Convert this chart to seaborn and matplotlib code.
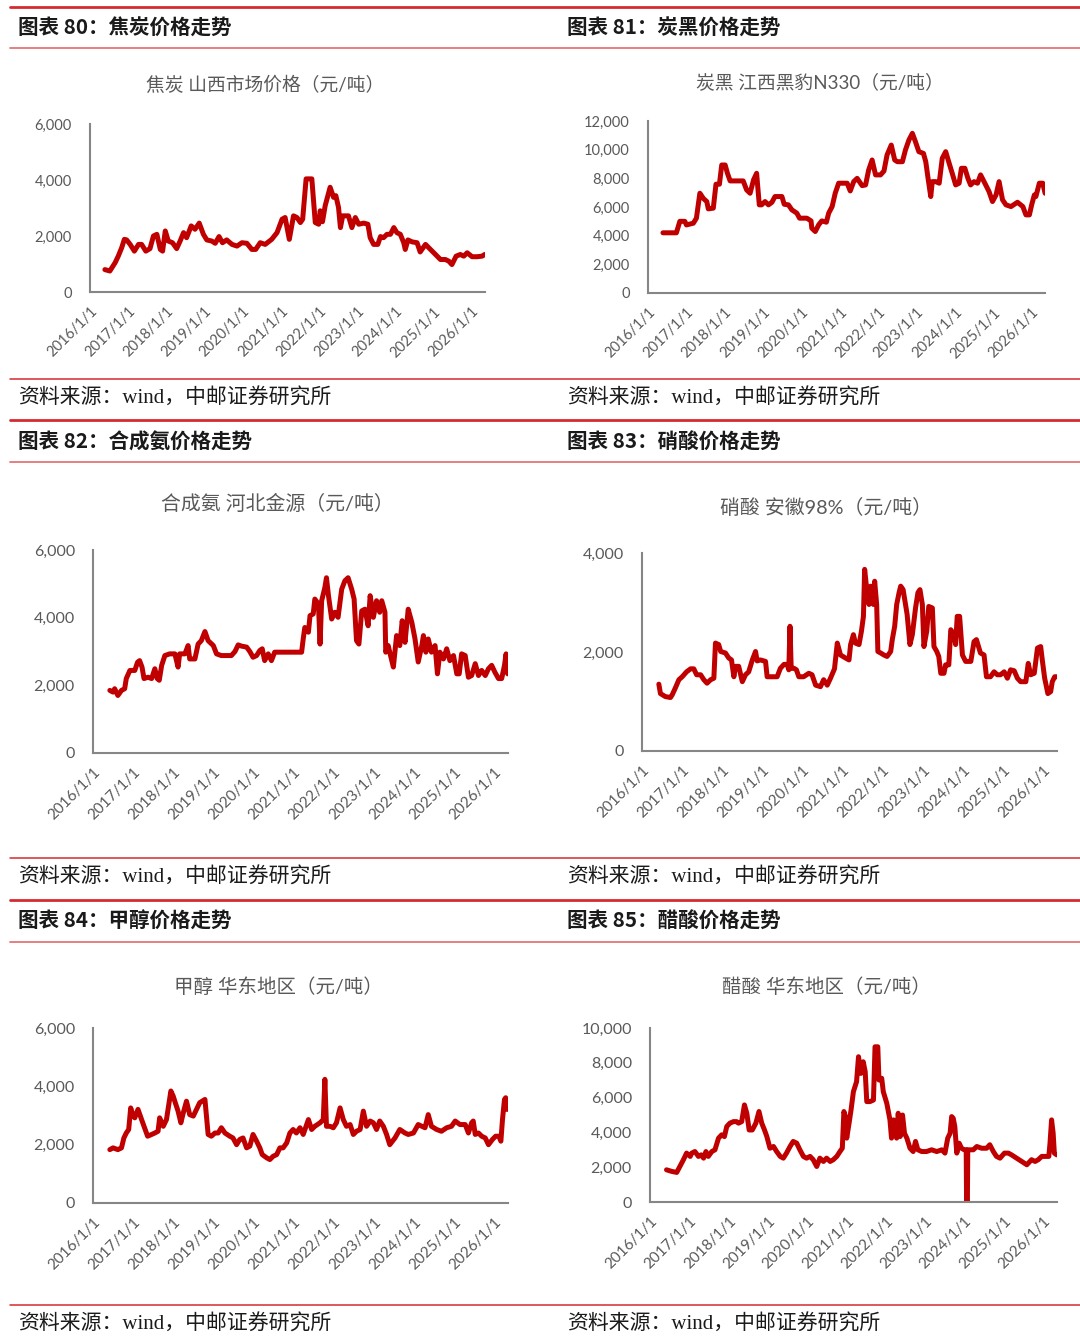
import numpy as np
import pandas as pd
import matplotlib
matplotlib.use("Agg")
import matplotlib.pyplot as plt
from matplotlib.lines import Line2D
from matplotlib.ticker import FuncFormatter
import seaborn as sns

# ---- data (decimal years / yuan per ton) ----
coke_years = [2016.39, 2016.52, 2016.66, 2016.74, 2016.83, 2016.90, 2016.96, 2017.05, 2017.16, 2017.27,
              2017.35, 2017.46, 2017.57, 2017.66, 2017.75, 2017.84, 2017.90, 2017.97, 2018.05, 2018.16,
              2018.27, 2018.36, 2018.45, 2018.53, 2018.65, 2018.75, 2018.86, 2018.97, 2019.06, 2019.19,
              2019.28, 2019.38, 2019.47, 2019.58, 2019.72, 2019.85, 2019.98, 2020.11, 2020.24, 2020.34,
              2020.46, 2020.59, 2020.76, 2020.90, 2021.03, 2021.11, 2021.22, 2021.33, 2021.42, 2021.51,
              2021.57, 2021.66, 2021.81, 2021.90, 2021.99, 2022.03, 2022.09, 2022.16, 2022.29, 2022.38,
              2022.44, 2022.51, 2022.56, 2022.62, 2022.77, 2022.86, 2022.95, 2023.04, 2023.17, 2023.28,
              2023.34, 2023.43, 2023.54, 2023.61, 2023.69, 2023.78, 2023.87, 2023.96, 2024.04, 2024.13,
              2024.22, 2024.26, 2024.33, 2024.44, 2024.57, 2024.65, 2024.79, 2024.92, 2025.05, 2025.18,
              2025.31, 2025.40, 2025.48, 2025.59, 2025.70, 2025.79, 2025.88, 2026.01, 2026.14, 2026.27,
              2026.34]
coke_price = [800, 750, 1050, 1280, 1580, 1880, 1860, 1700, 1460, 1700,
              1700, 1460, 1550, 2000, 2060, 1520, 1460, 2180, 1820, 1760,
              1550, 1820, 2120, 1940, 2360, 2240, 2460, 2060, 1860, 1820,
              1740, 1980, 1760, 1860, 1700, 1640, 1760, 1740, 1520, 1520,
              1760, 1700, 1880, 2120, 2600, 2660, 1880, 2720, 2660, 2480,
              2600, 4040, 4040, 2480, 2420, 2900, 2510, 3080, 3740, 3380,
              3440, 3020, 2300, 2720, 2720, 2300, 2660, 2420, 2460, 2420,
              1940, 1700, 1700, 1980, 1940, 2060, 2060, 2300, 2120, 2060,
              1760, 1520, 1860, 1790, 1760, 1430, 1700, 1520, 1340, 1160,
              1160, 1100, 980, 1280, 1340, 1280, 1400, 1260, 1260, 1280,
              1340]

cb_years = [2016.39, 2016.74, 2016.83, 2016.96, 2017.00, 2017.18, 2017.26, 2017.35, 2017.44, 2017.53,
            2017.57, 2017.70, 2017.77, 2017.86, 2017.92, 2018.01, 2018.07, 2018.14, 2018.48, 2018.57,
            2018.66, 2018.75, 2018.83, 2018.90, 2018.96, 2019.05, 2019.14, 2019.23, 2019.31, 2019.49,
            2019.55, 2019.66, 2019.75, 2019.88, 2019.95, 2020.14, 2020.25, 2020.27, 2020.36, 2020.45,
            2020.53, 2020.65, 2020.71, 2020.80, 2020.88, 2020.97, 2021.19, 2021.27, 2021.36, 2021.45,
            2021.58, 2021.67, 2021.75, 2021.84, 2021.93, 2022.06, 2022.15, 2022.23, 2022.34, 2022.43,
            2022.50, 2022.63, 2022.71, 2022.80, 2022.89, 2022.97, 2023.06, 2023.18, 2023.24, 2023.30,
            2023.37, 2023.41, 2023.50, 2023.59, 2023.67, 2023.76, 2023.85, 2023.93, 2024.02, 2024.11,
            2024.17, 2024.26, 2024.34, 2024.41, 2024.50, 2024.59, 2024.67, 2024.76, 2024.89, 2024.98,
            2025.07, 2025.15, 2025.24, 2025.33, 2025.46, 2025.55, 2025.63, 2025.77, 2025.85, 2025.94,
            2026.00, 2026.07, 2026.11, 2026.20, 2026.29, 2026.35]
cb_price = [4200, 4200, 5000, 5000, 4750, 4870, 5220, 6960, 6600, 6380,
            5870, 5920, 7590, 7590, 8930, 8930, 8350, 7820, 7820, 7190,
            6960, 7890, 8350, 6150, 6150, 6380, 6150, 6330, 6730, 6730,
            6190, 6150, 5800, 5570, 5220, 5220, 5030, 4520, 4290, 4760,
            5030, 4940, 5570, 6030, 6960, 7660, 7660, 7120, 7770, 8000,
            7490, 7540, 8580, 9280, 8240, 8240, 8510, 9630, 10320, 9280,
            9160, 9160, 9980, 10670, 11140, 10560, 9860, 9740, 9160, 8000,
            6730, 7770, 7770, 7660, 9400, 9860, 9050, 8350, 7540, 7660,
            8700, 8700, 8000, 7540, 7770, 7660, 8240, 7770, 7080, 6380,
            6840, 7770, 6500, 6150, 6030, 6190, 6330, 6030, 5450, 5450,
            6150, 6840, 6730, 7660, 7660, 6960]

nh3_years = [2016.42, 2016.50, 2016.54, 2016.62, 2016.71, 2016.79, 2016.83, 2016.92, 2017.04, 2017.11,
             2017.16, 2017.22, 2017.27, 2017.37, 2017.46, 2017.54, 2017.60, 2017.65, 2017.71, 2017.79,
             2017.91, 2018.04, 2018.12, 2018.16, 2018.29, 2018.37, 2018.41, 2018.54, 2018.62, 2018.70,
             2018.79, 2018.87, 2019.00, 2019.08, 2019.20, 2019.45, 2019.54, 2019.62, 2019.70, 2019.83,
             2019.91, 2019.99, 2020.08, 2020.16, 2020.22, 2020.28, 2020.37, 2020.45, 2020.53, 2021.20,
             2021.24, 2021.28, 2021.37, 2021.41, 2021.49, 2021.53, 2021.62, 2021.66, 2021.70, 2021.78,
             2021.82, 2021.87, 2021.95, 2022.03, 2022.11, 2022.20, 2022.28, 2022.36, 2022.45, 2022.51,
             2022.57, 2022.63, 2022.70, 2022.78, 2022.86, 2022.91, 2022.99, 2023.07, 2023.15, 2023.20,
             2023.28, 2023.30, 2023.36, 2023.45, 2023.49, 2023.57, 2023.65, 2023.71, 2023.78, 2023.86,
             2023.95, 2024.03, 2024.11, 2024.20, 2024.24, 2024.30, 2024.36, 2024.44, 2024.53, 2024.59,
             2024.65, 2024.74, 2024.82, 2024.90, 2024.99, 2025.07, 2025.13, 2025.19, 2025.28, 2025.36,
             2025.44, 2025.53, 2025.61, 2025.69, 2025.78, 2025.86, 2025.94, 2026.02, 2026.11, 2026.19,
             2026.26, 2026.30, 2026.34]
nh3_price = [1850, 1800, 1900, 1700, 1850, 1900, 2200, 2440, 2440, 2685,
             2730, 2540, 2200, 2240, 2200, 2490, 2200, 2150, 2590, 2880,
             2930, 2930, 2540, 2930, 2930, 3175, 2780, 2780, 3220, 3320,
             3590, 3320, 3175, 2930, 2880, 2880, 3000, 3195, 3160, 3130,
             3000, 2830, 2880, 3030, 3080, 2730, 2930, 2730, 2980, 2980,
             3370, 3710, 3570, 4060, 4110, 4550, 4400, 3220, 4500, 4890,
             5180, 4650, 3960, 4160, 4010, 4840, 5090, 5180, 4840, 4550,
             3320, 3220, 4200, 4250, 3760, 4650, 4010, 4500, 4160, 4500,
             4160, 2980, 3175, 2730, 2540, 3470, 3175, 3910, 3270, 4250,
             3860, 3370, 2690, 3175, 3470, 2980, 3370, 2980, 3175, 2340,
             2980, 2780, 3080, 2730, 2880, 2340, 2340, 2930, 2880, 2240,
             2290, 2640, 2290, 2440, 2290, 2490, 2590, 2390, 2200, 2200,
             2590, 2930, 2340]

hno3_years = [2016.42, 2016.46, 2016.58, 2016.71, 2016.75, 2016.83, 2016.92, 2017.00, 2017.11, 2017.21,
              2017.29, 2017.36, 2017.46, 2017.54, 2017.62, 2017.71, 2017.79, 2017.83, 2017.91, 2017.96,
              2018.08, 2018.16, 2018.23, 2018.29, 2018.33, 2018.41, 2018.50, 2018.58, 2018.66, 2018.75,
              2018.83, 2018.87, 2018.95, 2019.08, 2019.12, 2019.37, 2019.45, 2019.54, 2019.62, 2019.66,
              2019.69, 2019.72, 2019.79, 2019.85, 2019.91, 2020.03, 2020.16, 2020.24, 2020.33, 2020.45,
              2020.53, 2020.62, 2020.70, 2020.80, 2020.87, 2020.95, 2021.07, 2021.16, 2021.20, 2021.27,
              2021.32, 2021.41, 2021.47, 2021.52, 2021.55, 2021.62, 2021.66, 2021.70, 2021.77, 2021.80,
              2021.85, 2021.88, 2021.95, 2022.03, 2022.11, 2022.20, 2022.24, 2022.30, 2022.35, 2022.41,
              2022.45, 2022.51, 2022.57, 2022.61, 2022.68, 2022.74, 2022.82, 2022.88, 2022.93, 2022.99,
              2023.03, 2023.10, 2023.15, 2023.24, 2023.28, 2023.35, 2023.40, 2023.45, 2023.53, 2023.57,
              2023.65, 2023.70, 2023.78, 2023.82, 2023.86, 2023.92, 2023.99, 2024.07, 2024.20, 2024.28,
              2024.34, 2024.44, 2024.53, 2024.59, 2024.69, 2024.78, 2024.86, 2024.94, 2025.03, 2025.11,
              2025.19, 2025.28, 2025.36, 2025.44, 2025.57, 2025.63, 2025.69, 2025.78, 2025.86, 2025.94,
              2025.98, 2026.04, 2026.12, 2026.19, 2026.23, 2026.29, 2026.34]
hno3_price = [1350, 1160, 1100, 1080, 1130, 1270, 1440, 1500, 1600, 1660,
              1660, 1540, 1540, 1440, 1370, 1440, 1470, 2180, 2150, 2010,
              1980, 1880, 1840, 1500, 1710, 1710, 1400, 1540, 1600, 1840,
              2010, 1820, 1840, 1810, 1500, 1500, 1670, 1750, 1750, 1640,
              2520, 1670, 1670, 1640, 1500, 1500, 1570, 1540, 1330, 1300,
              1440, 1330, 1470, 1660, 2180, 1940, 1880, 1840, 2150, 2350,
              2180, 2150, 2420, 2720, 3670, 3130, 2960, 3330, 2960, 3430,
              2960, 2010, 1980, 1940, 1910, 2010, 2250, 2520, 2960, 3200,
              3330, 3260, 2960, 2760, 2150, 2350, 2890, 3200, 3260, 2960,
              2110, 2420, 2920, 2890, 2110, 2010, 1910, 1570, 1570, 1740,
              1740, 2450, 2350, 2150, 2720, 2720, 1940, 1810, 1810, 2210,
              2250, 1980, 1940, 1500, 1500, 1600, 1540, 1540, 1600, 1470,
              1640, 1620, 1470, 1400, 1400, 1770, 1540, 1570, 2080, 2110,
              1840, 1470, 1160, 1200, 1400, 1500, 1500]

meoh_years = [2016.42, 2016.50, 2016.62, 2016.71, 2016.77, 2016.83, 2016.89, 2016.94, 2017.00, 2017.04,
              2017.12, 2017.21, 2017.27, 2017.36, 2017.46, 2017.54, 2017.62, 2017.66, 2017.75, 2017.83,
              2017.94, 2018.00, 2018.05, 2018.12, 2018.19, 2018.25, 2018.33, 2018.41, 2018.50, 2018.58,
              2018.66, 2018.79, 2018.87, 2018.95, 2019.04, 2019.12, 2019.20, 2019.29, 2019.41, 2019.49,
              2019.58, 2019.66, 2019.74, 2019.83, 2019.91, 2019.99, 2020.08, 2020.16, 2020.22, 2020.33,
              2020.41, 2020.49, 2020.58, 2020.66, 2020.74, 2020.83, 2020.91, 2020.99, 2021.07, 2021.16,
              2021.24, 2021.37, 2021.45, 2021.53, 2021.66, 2021.74, 2021.78, 2021.82, 2021.91, 2021.99,
              2022.07, 2022.16, 2022.24, 2022.32, 2022.41, 2022.49, 2022.57, 2022.66, 2022.74, 2022.82,
              2022.91, 2022.99, 2023.07, 2023.15, 2023.24, 2023.32, 2023.40, 2023.53, 2023.65, 2023.78,
              2023.86, 2023.99, 2024.11, 2024.20, 2024.28, 2024.36, 2024.44, 2024.57, 2024.69, 2024.82,
              2024.94, 2025.03, 2025.15, 2025.28, 2025.36, 2025.44, 2025.48, 2025.53, 2025.61, 2025.69,
              2025.78, 2025.86, 2025.96, 2026.04, 2026.12, 2026.17, 2026.21, 2026.26, 2026.29, 2026.32,
              2026.36]
meoh_price = [1830, 1890, 1830, 1890, 2230, 2400, 2520, 3260, 2980, 2920,
              3210, 2860, 2630, 2290, 2350, 2400, 2460, 2920, 2630, 2860,
              3840, 3660, 3440, 3150, 2750, 3090, 3490, 3030, 2980, 3210,
              3440, 3550, 2350, 2290, 2400, 2400, 2580, 2400, 2290, 2230,
              2000, 2180, 2230, 1890, 1950, 2350, 2120, 1890, 1660, 1550,
              1490, 1600, 1660, 1890, 1890, 2060, 2400, 2520, 2400, 2580,
              2350, 2860, 2520, 2630, 2750, 2860, 4240, 2630, 2630, 2580,
              2750, 3260, 2860, 2630, 2690, 2350, 2460, 2520, 3150, 2630,
              2810, 2750, 2520, 2810, 2630, 2350, 2000, 2230, 2520, 2400,
              2350, 2400, 2690, 2630, 2580, 3030, 2630, 2520, 2460, 2580,
              2630, 2810, 2690, 2690, 2400, 2750, 2810, 2350, 2400, 2290,
              2230, 2000, 2180, 2290, 2290, 2120, 2860, 3550, 3610, 3210,
              3210]

acetic_years = [2016.42, 2016.55, 2016.68, 2016.76, 2016.85, 2016.93, 2017.02, 2017.06, 2017.14, 2017.23,
                2017.30, 2017.36, 2017.42, 2017.48, 2017.57, 2017.65, 2017.74, 2017.82, 2017.89, 2017.95,
                2018.03, 2018.12, 2018.20, 2018.25, 2018.33, 2018.40, 2018.46, 2018.52, 2018.60, 2018.69,
                2018.77, 2018.84, 2018.91, 2018.97, 2019.05, 2019.14, 2019.22, 2019.31, 2019.39, 2019.47,
                2019.56, 2019.64, 2019.73, 2019.81, 2019.90, 2019.98, 2020.07, 2020.15, 2020.24, 2020.32,
                2020.41, 2020.49, 2020.58, 2020.66, 2020.75, 2020.83, 2020.89, 2020.93, 2020.97, 2021.00,
                2021.06, 2021.11, 2021.17, 2021.25, 2021.30, 2021.36, 2021.42, 2021.47, 2021.51, 2021.59,
                2021.68, 2021.72, 2021.79, 2021.82, 2021.89, 2021.93, 2022.02, 2022.10, 2022.14, 2022.19,
                2022.23, 2022.27, 2022.31, 2022.36, 2022.42, 2022.47, 2022.53, 2022.61, 2022.69, 2022.75,
                2022.81, 2022.91, 2023.03, 2023.16, 2023.29, 2023.42, 2023.50, 2023.57, 2023.63, 2023.67,
                2023.71, 2023.75, 2023.80, 2023.86, 2023.92, 2023.99, 2024.04, 2024.05, 2024.07, 2024.08,
                2024.22, 2024.31, 2024.43, 2024.56, 2024.64, 2024.73, 2024.81, 2024.90, 2025.01, 2025.11,
                2025.19, 2025.32, 2025.45, 2025.58, 2025.70, 2025.79, 2025.87, 2025.96, 2026.08, 2026.14,
                2026.17, 2026.21, 2026.25, 2026.28, 2026.34]
acetic_price = [1850, 1760, 1700, 2040, 2430, 2810, 2620, 2810, 2900, 2620,
                2710, 2520, 2900, 2620, 2900, 3000, 3670, 3860, 3760, 4340,
                4530, 4620, 4620, 4530, 4620, 5580, 5100, 4140, 4140, 4530,
                5200, 4530, 4140, 3760, 3090, 3190, 2900, 2620, 2520, 2810,
                3190, 3480, 3380, 3000, 2620, 2520, 2620, 2430, 2040, 2520,
                2330, 2520, 2330, 2430, 2620, 2900, 3090, 5200, 4910, 3670,
                4530, 5290, 6340, 6910, 8350, 7390, 8060, 7490, 5770, 5770,
                5860, 8920, 8920, 7010, 7110, 6340, 5670, 4720, 3670, 4720,
                4140, 3670, 5100, 3760, 5000, 3950, 3670, 3090, 2900, 3480,
                3000, 2900, 2900, 3000, 2900, 3000, 2810, 3670, 3950, 4910,
                4810, 4340, 2810, 3380, 3090, 3000, 3000, 0, 0, 3000,
                3000, 3190, 3090, 3090, 3290, 2900, 2620, 2520, 2810, 2810,
                2710, 2520, 2330, 2140, 2430, 2330, 2430, 2620, 2620, 2620,
                3380, 4720, 3950, 2810, 2710]

headers = ["图表 80：焦炭价格走势", "图表 81：炭黑价格走势", "图表 82：合成氨价格走势",
           "图表 83：硝酸价格走势", "图表 84：甲醇价格走势", "图表 85：醋酸价格走势"]
titles = ["焦炭 山西市场价格（元/吨）", "炭黑 江西黑豹N330（元/吨）", "合成氨 河北金源（元/吨）",
          "硝酸 安徽98%（元/吨）", "甲醇 华东地区（元/吨）", "醋酸 华东地区（元/吨）"]
source = "资料来源：wind，中邮证券研究所"
year_ticks = list(range(2016, 2027))

# ---- style ----
W, H = 1080, 1341
RED = "#C00000"
AXIS = "#868686"
TXT = "#595959"
RULE = "#D42A2F"
RULE_THIN = "#E27676"

sns.set_theme(style="white")
plt.rcParams["font.family"] = ["Lato", "Noto Sans CJK SC", "DejaVu Sans"]


def to_dates(years):
    out = []
    for y in years:
        out.append(pd.Timestamp(int(y), 1, 1) + pd.Timedelta(days=(y - int(y)) * 365.25))
    return out


def rect(l, r, t, b):
    return [l / W, 1 - b / H, (r - l) / W, (b - t) / H]


def hline(y, x0, x1, color, lw):
    fig.add_artist(Line2D([x0 / W, x1 / W], [1 - y / H, 1 - y / H],
                          transform=fig.transFigure, color=color, lw=lw))


fig = plt.figure(figsize=(W / 100, H / 100), dpi=100)

# panel layout: axes box (left, right, top, bottom) and title centre, in pixels
panels = [
    (coke_years, coke_price, 6000, (90, 485, 124, 292), (265, 85), 13.5, 10.5, 10.5),
    (cb_years, cb_price, 12000, (648, 1045, 121, 293), (820, 82), 13.5, 10.5, 10.5),
    (nh3_years, nh3_price, 6000, (93, 508, 550, 753), (277, 503), 14.3, 11.0, 11.5),
    (hno3_years, hno3_price, 4000, (642, 1057, 553, 751), (826, 508), 14.3, 11.0, 11.5),
    (meoh_years, meoh_price, 6000, (93, 508, 1028, 1203), (278, 987), 14.0, 11.0, 11.5),
    (acetic_years, acetic_price, 10000, (650, 1057, 1028, 1202), (826, 987), 14.0, 11.0, 11.5),
]

for i, (yrs, vals, ymax, box, tpos, tsize, xsize, ysize) in enumerate(panels):
    ax = fig.add_axes(rect(*box))
    df = pd.DataFrame({"date": to_dates(yrs), "price": vals})
    sns.lineplot(data=df, x="date", y="price", ax=ax, color=RED, linewidth=3.6,
                 solid_joinstyle="round", solid_capstyle="round")
    ax.set_xlim(pd.Timestamp("2016-01-01"), pd.Timestamp("2026-05-08"))
    ax.set_ylim(0, ymax)
    ax.set_yticks(np.arange(0, ymax + 1, 2000))
    ax.yaxis.set_major_formatter(FuncFormatter(lambda v, p: f"{v:,.0f}"))
    ax.set_xticks([pd.Timestamp(f"{y}-01-01") for y in year_ticks])
    ax.set_xticklabels([f"{y}/1/1" for y in year_ticks], rotation=45,
                       ha="right", va="top", rotation_mode="anchor")
    ax.set_xlabel("")
    ax.set_ylabel("")
    ax.grid(False)
    ax.set_facecolor("none")
    for s in ["top", "right"]:
        ax.spines[s].set_visible(False)
    for s in ["left", "bottom"]:
        ax.spines[s].set_color(AXIS)
        ax.spines[s].set_linewidth(1.5)
    ax.tick_params(axis="x", direction="out", length=5, width=1.3, color=AXIS,
                   labelsize=xsize, labelcolor=TXT, pad=4)
    ax.tick_params(axis="y", length=0, labelsize=ysize, labelcolor=TXT, pad=13)

    fig.text(tpos[0] / W, 1 - tpos[1] / H, titles[i], ha="center", va="center",
             fontsize=tsize, color=TXT)

# headers, sources and red rules
rows = [(7, 28, 48, 379, 399), (420, 442, 462, 858, 878), (900, 921, 942, 1305, 1325)]
for r, (top, head_y, thin_y, src_line, src_y) in enumerate(rows):
    hline(top, 10, 1080, RULE, 2.0)
    hline(thin_y, 10, 1080, RULE_THIN, 1.3)
    hline(src_line, 10, 1080, RULE, 1.1)
    for c, x in enumerate([18, 567]):
        fig.text(x / W, 1 - head_y / H, headers[2 * r + c], ha="left", va="center",
                 fontsize=14.8, fontweight="bold", color="#1a1a1a",
                 family=["Noto Sans CJK SC", "DejaVu Sans"])
        fig.text(x / W, 1 - src_y / H, source, ha="left", va="center",
                 fontsize=15, color="#1a1a1a",
                 family=["Liberation Serif", "Noto Sans CJK SC"])

fig.savefig("out.png", dpi=100)
